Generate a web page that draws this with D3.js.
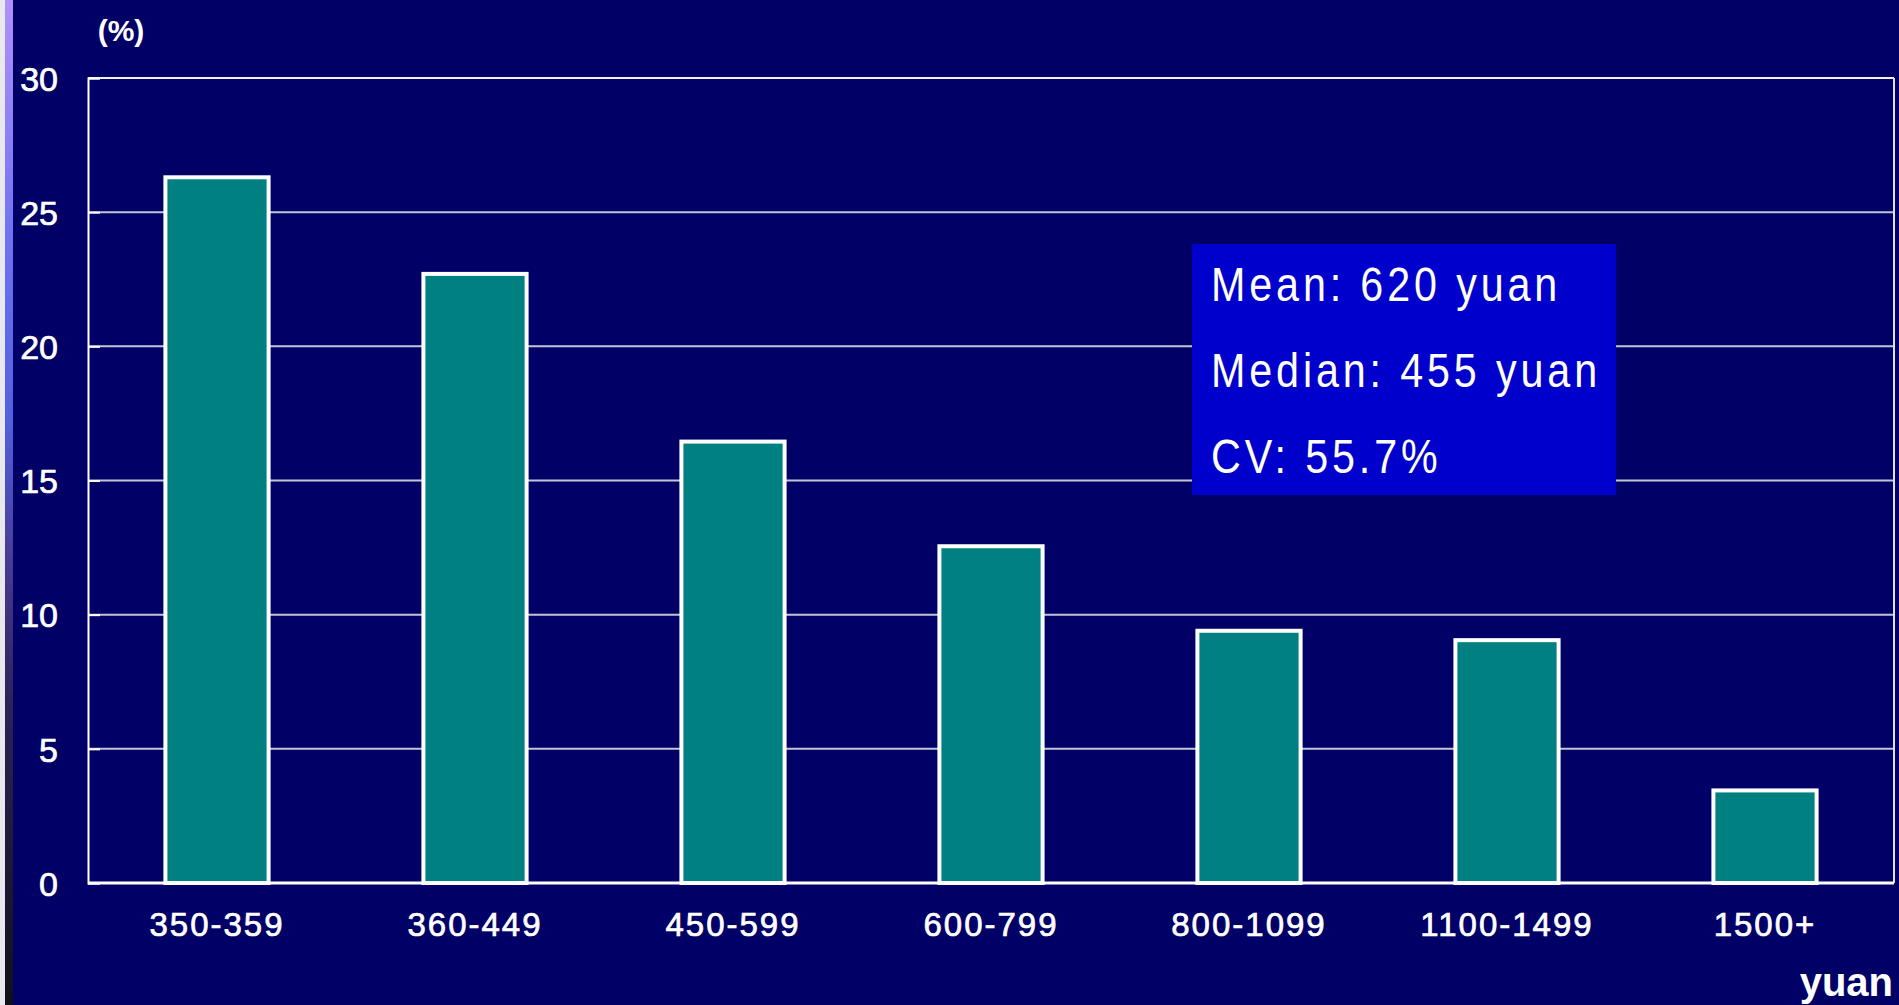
<!DOCTYPE html>
<html>
<head>
<meta charset="utf-8">
<script src="https://cdn.jsdelivr.net/npm/d3@7"></script>
<style>
  html, body { margin: 0; padding: 0; background: #000066; overflow: hidden; }
  svg { display: block; }
  text { font-family: "Liberation Sans", Arial, sans-serif; fill: #ffffff; }
</style>
</head>
<body>
<svg id="chart" width="1899" height="1005"></svg>
<script>
const categories = ["350-359", "360-449", "450-599", "600-799", "800-1099", "1100-1499", "1500+"];
const values = [26.3, 22.7, 16.45, 12.55, 9.4, 9.05, 3.45];
const yTicks = [0, 5, 10, 15, 20, 25, 30];
const statLines = ["Mean: 620 yuan", "Median: 455 yuan", "CV: 55.7%"];
const yLabel = "(%)";
const xLabel = "yuan";

const W = 1899, H = 1005;
const margin = { left: 88, right: 5, top: 78, bottom: 122 };
const svg = d3.select("#chart");

// background
svg.append("rect").attr("width", W).attr("height", H).attr("fill", "#000066");

// left decorative strip
const defs = svg.append("defs");
const grad = defs.append("linearGradient").attr("id", "edge").attr("x1", 0).attr("x2", 0).attr("y1", 0).attr("y2", 1);
[[0, "#b090fa"], [0.25, "#6c70f2"], [0.42, "#5060e0"], [0.55, "#4a3c98"], [0.7, "#2c2258"], [1, "#101018"]]
  .forEach(([o, c]) => grad.append("stop").attr("offset", o).attr("stop-color", c));
svg.append("rect").attr("x", 0).attr("y", 0).attr("width", 5).attr("height", H).attr("fill", "#e8e8ee");
svg.append("rect").attr("x", 5).attr("y", 0).attr("width", 8).attr("height", H).attr("fill", "url(#edge)");

const x = d3.scaleBand().domain(categories).range([margin.left, W - margin.right]).paddingInner(0.6).paddingOuter(0.3);
const y = d3.scaleLinear().domain([0, 30]).range([H - margin.bottom, margin.top]);

// gridlines
svg.append("g").selectAll("line").data(yTicks.filter(t => t > 0 && t < 30)).join("line")
  .attr("x1", margin.left).attr("x2", W - margin.right)
  .attr("y1", d => y(d)).attr("y2", d => y(d))
  .attr("stroke", "#c4c4d4").attr("stroke-width", 2);

// frame: top, right
svg.append("line").attr("x1", margin.left).attr("x2", W - margin.right).attr("y1", y(30)).attr("y2", y(30))
  .attr("stroke", "#f0f0f0").attr("stroke-width", 2);
svg.append("line").attr("x1", W - margin.right).attr("x2", W - margin.right).attr("y1", y(30)).attr("y2", y(0))
  .attr("stroke", "#e0e0e8").attr("stroke-width", 2);

// y axis
const yAxis = svg.append("g").attr("transform", `translate(${margin.left},0)`)
  .call(d3.axisLeft(y).tickValues(yTicks).tickSize(-12).tickPadding(30).tickFormat(d3.format("d")));
yAxis.select(".domain").attr("stroke", "#ffffff").attr("stroke-width", 2);
yAxis.selectAll(".tick line").attr("stroke", "#ffffff").attr("stroke-width", 2);
yAxis.selectAll(".tick text").attr("fill", "#ffffff").attr("font-size", 34)
  .attr("stroke", "#ffffff").attr("stroke-width", 0.7)
  .attr("font-family", "'Liberation Sans', Arial, sans-serif").attr("dy", "0.36em");

// bars
svg.append("g").selectAll("rect").data(values).join("rect")
  .attr("x", (d, i) => x(categories[i]))
  .attr("width", x.bandwidth())
  .attr("y", d => y(d))
  .attr("height", d => y(0) - y(d))
  .attr("fill", "#008080")
  .attr("stroke", "#ffffff").attr("stroke-width", 4);

// x axis baseline
svg.append("line").attr("x1", margin.left).attr("x2", W - margin.right).attr("y1", y(0)).attr("y2", y(0))
  .attr("stroke", "#ffffff").attr("stroke-width", 3);

// x labels
const xAxis = svg.append("g").attr("transform", `translate(0,${y(0)})`)
  .call(d3.axisBottom(x).tickSize(0).tickPadding(30));
xAxis.select(".domain").remove();
xAxis.selectAll(".tick text").attr("fill", "#ffffff").attr("font-size", 33).attr("letter-spacing", "2px")
  .attr("stroke", "#ffffff").attr("stroke-width", 0.7)
  .attr("font-family", "'Liberation Sans', Arial, sans-serif").attr("dy", "0.71em");

// axis titles
svg.append("text").attr("x", 121).attr("y", 41).attr("text-anchor", "middle")
  .attr("font-size", 30).attr("font-weight", "bold").text(yLabel);
svg.append("text").attr("x", 1893).attr("y", 996).attr("text-anchor", "end")
  .attr("font-size", 40).attr("font-weight", "bold").text(xLabel);

// stats box
svg.append("rect").attr("x", 1192).attr("y", 244).attr("width", 424).attr("height", 251).attr("fill", "#0000cc");
svg.append("g").attr("transform", "translate(1211,0) scale(0.86,1)")
  .selectAll("text").data(statLines).join("text")
  .attr("x", 0).attr("y", (d, i) => 301 + i * 86)
  .attr("font-size", 48).attr("letter-spacing", "4.5px")
  .attr("font-family", "'Liberation Sans', Arial, sans-serif").text(d => d);
</script>
</body>
</html>
